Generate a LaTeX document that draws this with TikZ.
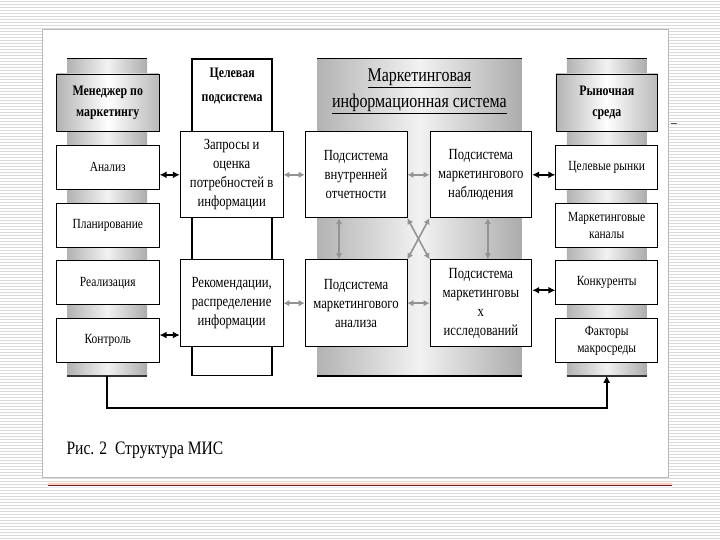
\documentclass[tikz,border=0pt]{standalone}
\usepackage{fontspec}
\setmainfont{Liberation Serif}[FakeStretch=0.82]
\usetikzlibrary{arrows.meta,positioning}
\newcommand\headfont{\fontsize{14.5}{21}\selectfont\bfseries}
\newcommand\itemfont{\fontsize{14}{17}\selectfont}
\newcommand\subfont{\fontsize{15.5}{19}\selectfont}
\newcommand\titlefont{\fontsize{19.5}{26}\selectfont}
\newcommand\capfont{\fontsize{19}{22}\selectfont}

\begin{document}
\begin{tikzpicture}[x=1pt,y=-1pt,>={Latex[length=7pt,width=7pt]},node distance=13pt]
        \tikzstyle{pillar}=[inner sep=0pt,minimum height=317pt,left color=gray!60,right color=gray!65,middle color=gray!10]
        \tikzstyle{head}=[draw=black,inner sep=0pt,minimum width=103pt,minimum height=57pt,left color=gray!60,right color=gray!55,middle color=white,align=center,font=\headfont]
        \tikzstyle{item}=[draw=black,thick,fill=white,inner sep=0pt,minimum width=103pt,minimum height=44pt,align=center,font=\itemfont]
        \tikzstyle{sub}=[draw=black,thick,fill=white,inner sep=0pt,minimum width=102pt,minimum height=86pt,align=center,font=\subfont]
        \tikzstyle{link}=[<->,line width=1.8pt]
        \tikzstyle{glink}=[{Latex[length=6pt,width=6.5pt]}-{Latex[length=6pt,width=6.5pt]},line width=1.6pt,draw=gray!85]
        % slide
        \fill[white] (0,0) rectangle (720,540);
        \foreach \y in {1.5,4.5,...,540}
            \draw[gray!28,line width=0.8pt] (0,\y) -- (720,\y);
        \draw[gray!55,fill=white,line width=1pt] (42,30) rectangle (669,478);
        \draw[gray!70!black,line width=1pt] (671,124) -- (677,124);
        \draw[red!20,line width=1pt] (48,484) -- (672,484);
        \draw[red!75!black,line width=1.3pt] (48,486) -- (672,486);
        \draw[cyan!15,line width=1pt] (48,488.5) -- (672,488.5);
        % manager
        \node[pillar,minimum width=80pt] (lp) at (107,217.5) {};
        \draw[line width=1.5pt] (lp.north west) -- (lp.north east);
        \draw[line width=1.5pt,gray!40!black] (lp.south west) -- (lp.south east);
        \node[head] (mgr) at (107.5,102.5) {Менеджер по\\маркетингу};
        \node[item] (anl) at (107.5,167.5) {Анализ};
        \node[item,below=of anl] (pln) {Планирование};
        \node[item,below=of pln] (rea) {Реализация};
        \node[item,below=of rea] (ctrl) {Контроль};
        % target subsystem
        \node[draw,line width=1.5pt,fill=white,inner sep=0pt,minimum width=80pt,minimum height=317pt] (tgt) at (232,217.5) {};
        \node[font=\headfont,align=center] (tgtt) at (232,86) {Целевая\\[3pt]подсистема};
        \node[sub,minimum width=103pt] (req) at (231.5,175) {Запросы и\\оценка\\потребностей в\\информации};
        \node[sub,minimum width=103pt,minimum height=87pt] (rec) at (231.5,303.5) {Рекомендации,\\распределение\\информации};
        % MIS
        \node[pillar,minimum width=205pt] (mis) at (419.5,217.5) {};
        \draw[line width=1.5pt] (mis.north west) -- (mis.north east);
        \draw[line width=1.5pt] (mis.south west) -- (mis.south east);
        \node[font=\titlefont,align=center] (mist) at (419.5,91) {\underline{Маркетинговая}\\\underline{информационная система}};
        \node[sub] (vnut) at (356,175) {Подсистема\\внутренней\\отчетности};
        \node[sub] (obs) at (481,175) {Подсистема\\маркетингового\\наблюдения};
        \node[sub,minimum height=87pt] (anz) at (356,303.5) {Подсистема\\маркетингового\\анализа};
        \node[sub,minimum height=87pt] (res) at (481,303.5) {Подсистема\\маркетинговы\\х\\исследований};
        % market
        \node[pillar,minimum width=80pt] (rp) at (607,217.5) {};
        \draw[line width=1.5pt] (rp.north west) -- (rp.north east);
        \draw[line width=1.5pt,gray!40!black] (rp.south west) -- (rp.south east);
        \node[head,minimum width=102pt] (mkt) at (607,102.5) {Рыночная\\среда};
        \node[item,minimum width=102pt] (tm) at (607,167.5) {Целевые рынки};
        \node[item,minimum width=102pt,below=of tm] (chn) {Маркетинговые\\каналы};
        \node[item,minimum width=102pt,below=of chn] (kon) {Конкуренты};
        \node[item,minimum width=102pt,below=of kon] (mac) {Факторы\\макросреды};
        % links
        \draw[link] ([yshift=-7.5pt]anl.east) -- (req.west);
        \coordinate (c1) at ([yshift=5.5pt]ctrl.east);
        \draw[link] (c1) -- (c1 -| rec.west);
        \draw[link] (obs.east) -- (obs.east -| tm.west);
        \coordinate (c2) at ([yshift=-7.5pt]kon.west);
        \draw[link] (c2 -| res.east) -- (c2);
        \draw[glink] (req.east) -- (vnut.west);
        \draw[glink] (vnut.east) -- (obs.west);
        \draw[glink] (rec.east) -- (anz.west);
        \draw[glink] (anz.east) -- (res.west);
        \draw[glink] ([xshift=-17pt]vnut.south) -- ([xshift=-17pt]anz.north);
        \draw[glink] ([xshift=7pt]obs.south) -- ([xshift=7pt]res.north);
        \draw[glink] (vnut.south east) -- (res.north west);
        \draw[glink] (obs.south west) -- (anz.north east);
        \draw[line width=1.8pt,->] (lp.south) -- ++(0,32) -| (rp.south);
        \node[anchor=base west,font=\capfont,inner sep=0pt] (cap) at (66,455) {Рис. 2\ \ Структура МИС};
        \useasboundingbox (0,0) rectangle (720,540);
\end{tikzpicture}
\end{document}
